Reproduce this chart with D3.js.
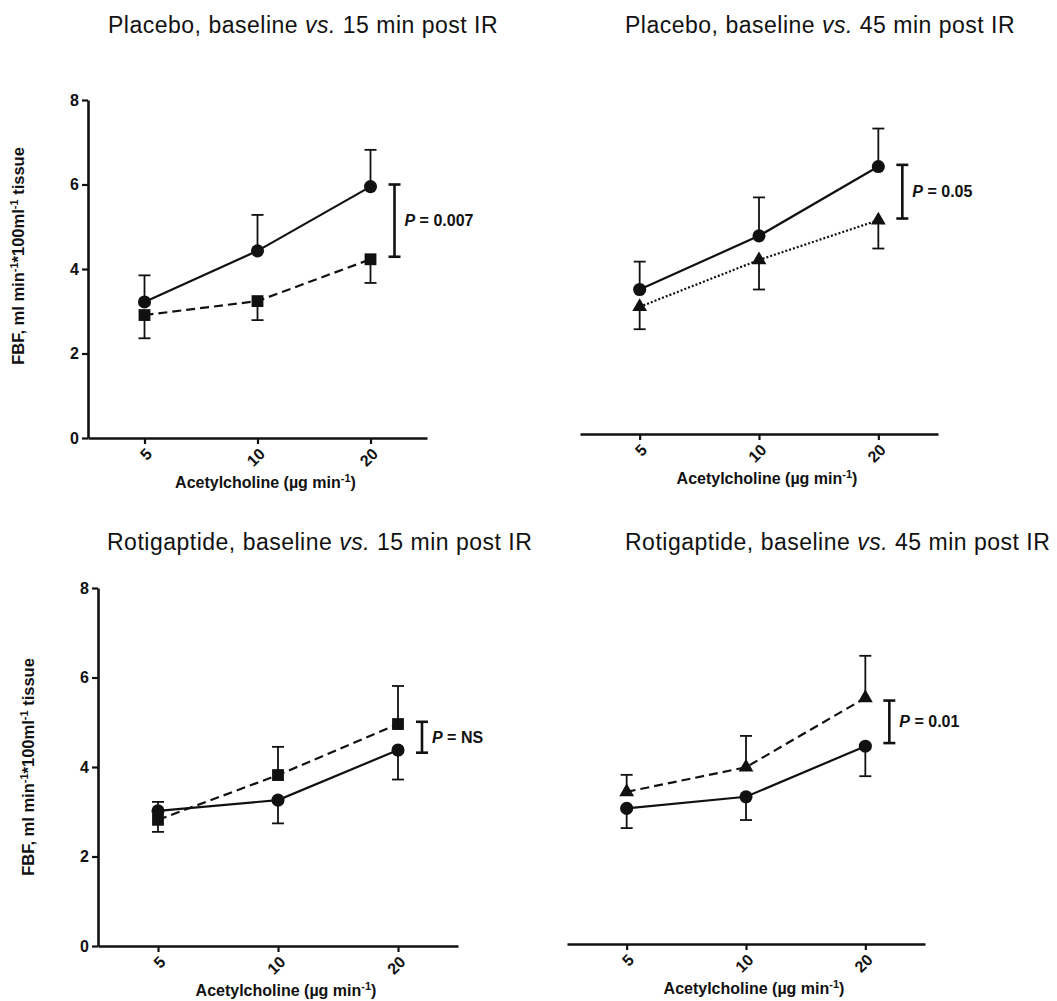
<!DOCTYPE html>
<html>
<head>
<meta charset="utf-8">
<script src="https://cdn.jsdelivr.net/npm/d3@7"></script>
<style>
    body { margin: 0; background: #fff; }
    text { font-family: "Liberation Sans", Arial, sans-serif; fill: #111; }
    .title { font-size: 23px; letter-spacing: 0.5px; }
    .axis-lable { font-size: 16px; font-weight: bold; }
    .pval { font-size: 16px; font-weight: bold; }
</style>
</head>
<body>
<svg width="1057" height="1001"></svg>
<script>
// categories and ticks
let doses = ["5", "10", "20"];
let yTicks = [0, 2, 4, 6, 8];

let titles = [
    ["Placebo, baseline ", "vs.", " 15 min post IR"],
    ["Placebo, baseline ", "vs.", " 45 min post IR"],
    ["Rotigaptide, baseline ", "vs.", " 15 min post IR"],
    ["Rotigaptide, baseline ", "vs.", " 45 min post IR"]
];
let pLabels = ["0.007", "0.05", "NS", "0.01"];

// FBF means, error (positive = bar drawn up, negative = drawn down)
let placebo15Base = [3.22, 4.43, 5.95];
let placebo15BaseErr = [0.63, 0.85, 0.87];
let placebo15Post = [2.91, 3.24, 4.23];
let placebo15PostErr = [-0.55, -0.45, -0.56];
let placebo15Bracket = [4.29, 6.0];

let placebo45Base = [3.42, 4.69, 6.33];
let placebo45BaseErr = [0.66, 0.91, 0.90];
let placebo45Post = [3.01, 4.12, 5.06];
let placebo45PostErr = [-0.53, -0.70, -0.67];
let placebo45Bracket = [5.10, 6.37];

let rotig15Base = [3.02, 3.26, 4.38];
let rotig15BaseErr = [0.20, -0.52, -0.66];
let rotig15Post = [2.82, 3.82, 4.96];
let rotig15PostErr = [-0.27, 0.63, 0.85];
let rotig15Bracket = [4.32, 5.01];

let rotig45Base = [3.03, 3.29, 4.42];
let rotig45BaseErr = [-0.44, -0.52, -0.67];
let rotig45Post = [3.40, 3.95, 5.50];
let rotig45PostErr = [0.38, 0.70, 0.94];
let rotig45Bracket = [4.49, 5.44];

let svg = d3.select('svg');

// layout of the four panels
let panels = [
    { left: 88, right: 427, bottom: 438, top: 100, showY: true, yLabel: [18, 256], titlePos: [108, 33],
      base: placebo15Base, baseErr: placebo15BaseErr, post: placebo15Post, postErr: placebo15PostErr,
      bracket: placebo15Bracket, dash: "9,5", shape: d3.symbolSquare },
    { left: 580, right: 938, bottom: 434, top: 96, showY: false, titlePos: [625, 33],
      base: placebo45Base, baseErr: placebo45BaseErr, post: placebo45Post, postErr: placebo45PostErr,
      bracket: placebo45Bracket, dash: "2,2", shape: d3.symbolTriangle },
    { left: 98, right: 458, bottom: 946, top: 588, showY: true, yLabel: [28, 767], titlePos: [107, 550],
      base: rotig15Base, baseErr: rotig15BaseErr, post: rotig15Post, postErr: rotig15PostErr,
      bracket: rotig15Bracket, dash: "9,5", shape: d3.symbolSquare },
    { left: 567, right: 925, bottom: 944, top: 586, showY: false, titlePos: [625, 550],
      base: rotig45Base, baseErr: rotig45BaseErr, post: rotig45Post, postErr: rotig45PostErr,
      bracket: rotig45Bracket, dash: "9,5", shape: d3.symbolTriangle }
];

panels.forEach(drawPanel);

function drawPanel(p, k) {
    let g = svg.append('g');

    let xScale = d3.scalePoint()
        .domain(doses)
        .range([p.left, p.right])
        .padding(0.5);

    let yScale = d3.scaleLinear()
        .domain([0, 8])
        .range([p.bottom, p.top]);

    // title
    let t = g.append('text')
        .attr('class', 'title')
        .attr('x', p.titlePos[0])
        .attr('y', p.titlePos[1]);
    t.append('tspan').text(titles[k][0]);
    t.append('tspan').style('font-style', 'italic').text(titles[k][1]);
    t.append('tspan').text(titles[k][2]);

    // x axis
    let xAxis = g.append('g')
        .attr('class', 'x-axis')
        .attr('transform', 'translate(0,' + p.bottom + ')')
        .call(d3.axisBottom(xScale).tickSize(6).tickSizeOuter(0));
    xAxis.attr('font-size', null).attr('font-family', null);
    xAxis.select('.domain').attr('stroke', '#111').attr('stroke-width', 2.6);
    xAxis.selectAll('.tick line').attr('stroke', '#111').attr('stroke-width', 2.2);
    xAxis.selectAll('.tick text')
        .attr('x', null).attr('y', null).attr('dy', '0.35em')
        .attr('text-anchor', 'end')
        .style('font-size', '16px')
        .style('font-weight', 'bold')
        .attr('transform', 'translate(4,13) rotate(-45)');

    // y axis (left panels only)
    if (p.showY) {
        let yAxis = g.append('g')
            .attr('class', 'y-axis')
            .attr('transform', 'translate(' + p.left + ',0)')
            .call(d3.axisLeft(yScale).tickValues(yTicks).tickSize(6).tickSizeOuter(0).tickPadding(3));
        yAxis.attr('font-size', null).attr('font-family', null);
        yAxis.select('.domain').attr('stroke', '#111').attr('stroke-width', 2.6);
        yAxis.selectAll('.tick line').attr('stroke', '#111').attr('stroke-width', 2.2);
        yAxis.selectAll('.tick text')
            .style('font-size', '16px')
            .style('font-weight', 'bold');

        let yl = g.append('text')
            .attr('class', 'axis-lable')
            .attr('text-anchor', 'middle')
            .attr('dy', '0.35em')
            .style('font-size', '16.5px')
            .attr('transform', 'translate(' + p.yLabel[0] + ',' + p.yLabel[1] + ') rotate(-90)');
        yl.append('tspan').text('FBF, ml min');
        yl.append('tspan').attr('baseline-shift', 'super').style('font-size', '11px').text('-1');
        yl.append('tspan').text('*100ml');
        yl.append('tspan').attr('baseline-shift', 'super').style('font-size', '11px').text('-1');
        yl.append('tspan').text(' tissue');
    }

    // x axis label
    let xl = g.append('text')
        .attr('class', 'axis-lable')
        .attr('text-anchor', 'middle')
        .attr('x', (p.left + p.right) / 2 + 8)
        .attr('y', p.bottom + 50);
    xl.append('tspan').text('Acetylcholine (\u00b5g min');
    xl.append('tspan').attr('baseline-shift', 'super').style('font-size', '11px').text('-1');
    xl.append('tspan').text(')');

    let series = [
        { values: p.post, err: p.postErr, dash: p.dash, shape: p.shape, size: p.shape === d3.symbolSquare ? 140 : 95 },
        { values: p.base, err: p.baseErr, dash: null, shape: d3.symbolCircle, size: 135 }
    ];

    // error bars
    series.forEach(s => {
        s.values.forEach((v, i) => {
            let x = xScale(doses[i]);
            let yEnd = yScale(v + s.err[i]);
            g.append('line')
                .attr('x1', x).attr('x2', x)
                .attr('y1', yScale(v)).attr('y2', yEnd)
                .attr('stroke', '#111').attr('stroke-width', 1.8);
            g.append('line')
                .attr('x1', x - 6).attr('x2', x + 6)
                .attr('y1', yEnd).attr('y2', yEnd)
                .attr('stroke', '#111').attr('stroke-width', 1.8);
        });
    });

    // lines and markers
    series.forEach(s => {
        let line = d3.line()
            .x((d, i) => xScale(doses[i]))
            .y(d => yScale(d));
        g.append('path')
            .datum(s.values)
            .attr('d', line)
            .attr('fill', 'none')
            .attr('stroke', '#111')
            .attr('stroke-width', 2.2)
            .attr('stroke-dasharray', s.dash);

        g.selectAll('.pt' + s.size)
            .data(s.values)
            .enter().append('path')
            .attr('transform', (d, i) => 'translate(' + xScale(doses[i]) + ',' + yScale(d) + ')')
            .attr('d', d3.symbol().type(s.shape).size(s.size))
            .attr('fill', '#111');
    });

    // significance bracket
    let bx = xScale(doses[2]) + 24;
    let yLo = yScale(p.bracket[0]);
    let yHi = yScale(p.bracket[1]);
    g.append('line')
        .attr('x1', bx).attr('x2', bx).attr('y1', yLo).attr('y2', yHi)
        .attr('stroke', '#111').attr('stroke-width', 2.6);
    [yLo, yHi].forEach(y => {
        g.append('line')
            .attr('x1', bx - 6).attr('x2', bx + 6).attr('y1', y).attr('y2', y)
            .attr('stroke', '#111').attr('stroke-width', 2.6);
    });
    let pt = g.append('text')
        .attr('class', 'pval')
        .attr('x', bx + 10)
        .attr('y', (yLo + yHi) / 2)
        .attr('dy', '0.35em');
    pt.append('tspan').style('font-style', 'italic').text('P');
    pt.append('tspan').text(' = ' + pLabels[k]);
}
</script>
</body>
</html>
